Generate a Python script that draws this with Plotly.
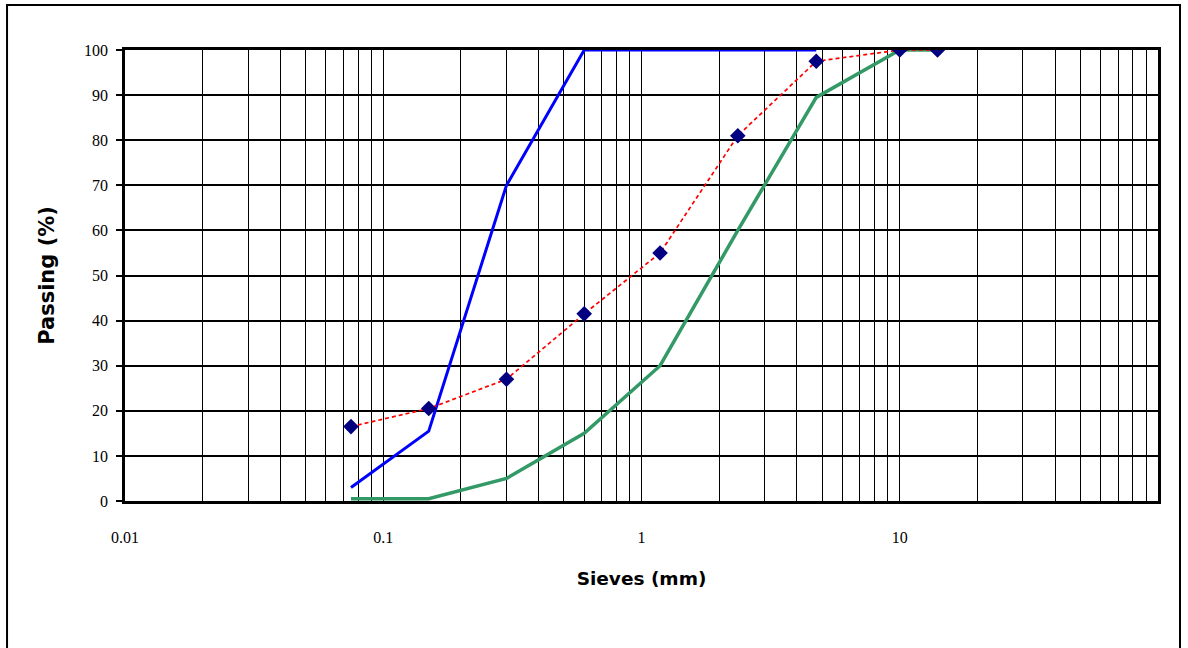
import plotly.graph_objects as go

sieves = [0.075, 0.15, 0.3, 0.6, 1.18, 2.36, 4.75, 10, 14]
sample_passing = [16.5, 20.5, 27, 41.5, 55, 81, 97.5, 100, 100]
upper_sieves = [0.075, 0.15, 0.3, 0.6, 1.18, 2.36, 4.75]
upper_limit = [3, 15.5, 70, 100, 100, 100, 100]
lower_sieves = [0.075, 0.15, 0.3, 0.6, 1.18, 2.36, 4.75, 10, 14]
lower_limit = [0.5, 0.5, 5, 15, 30, 60, 89.5, 100, 100]

x_labels = ["0.01", "0.1", "1", "10"]
y_ticks = [0, 10, 20, 30, 40, 50, 60, 70, 80, 90, 100]

# gridline positions on the log axis: 1..9 in each decade
grid_vals = []
grid_text = []
for i, d in enumerate([0.01, 0.1, 1, 10]):
    for m in range(1, 10):
        grid_vals.append(round(d * m, 4))
        grid_text.append(x_labels[i] if m == 1 else "")
grid_vals.append(100)
grid_text.append("")

fig = go.Figure()
fig.add_trace(go.Scatter(x=upper_sieves, y=upper_limit, mode="lines",
                         line=dict(color="#0000FF", width=3), showlegend=False))
fig.add_trace(go.Scatter(x=lower_sieves, y=lower_limit, mode="lines",
                         line=dict(color="#339966", width=3.5), showlegend=False))
fig.add_trace(go.Scatter(x=sieves, y=sample_passing, mode="lines+markers",
                         line=dict(color="#FF0000", width=1.7, dash="4px,3px"),
                         marker=dict(symbol="diamond", size=12, color="#000080"),
                         showlegend=False))

fig.update_layout(
    width=1188, height=648,
    margin=dict(l=125, r=30, t=50, b=147),
    paper_bgcolor="white", plot_bgcolor="white",
    xaxis=dict(type="log", range=[-2, 2], tickvals=grid_vals, ticktext=grid_text,
               showgrid=True, gridcolor="#000000", gridwidth=1.3,
               ticks="", showline=True, linecolor="black", linewidth=2.5, mirror=True,
               tickfont=dict(family="Liberation Serif", size=16, color="black"),
               ticklabelstandoff=20, zeroline=False,
               title=dict(text="<b>Sieves (mm)</b>", standoff=28,
                          font=dict(family="DejaVu Sans", size=18.5, color="black"))),
    yaxis=dict(range=[0, 100], tickvals=y_ticks, showgrid=True, gridcolor="#000000",
               gridwidth=2, ticks="outside", ticklen=6, tickwidth=1.5, tickcolor="black",
               showline=True, linecolor="black", linewidth=2.5, mirror=True,
               tickfont=dict(family="Liberation Serif", size=16, color="black"),
               zeroline=False, ticklabelstandoff=5,
               title=dict(text="<b>Passing (%)</b>", standoff=24,
                          font=dict(family="DejaVu Sans", size=21, color="black"))),
    shapes=[dict(type="rect", xref="paper", yref="paper",
                 x0=-0.1142, x1=1.0213, y0=-0.40, y1=1.0998,
                 line=dict(color="black", width=2), fillcolor="rgba(0,0,0,0)",
                 layer="below")],
)

fig.write_html("out.html", config={"displayModeBar": False},
               post_script="document.body.style.margin='0';document.body.style.overflow='hidden';")
